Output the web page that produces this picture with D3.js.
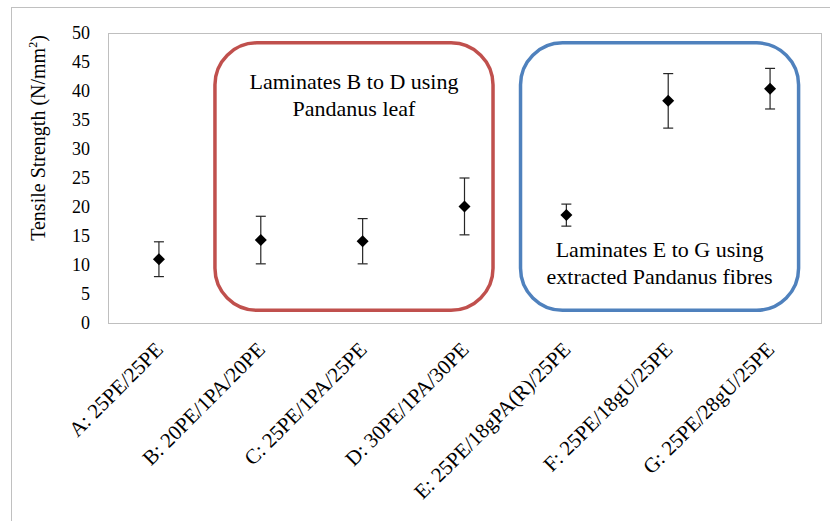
<!DOCTYPE html>
<html>
<head>
<meta charset="utf-8">
<script src="https://cdn.jsdelivr.net/npm/d3@7"></script>
<style>
  body { margin: 0; background: #fff; }
  svg text { font-family: "Liberation Serif", serif; }
</style>
</head>
<body>
<div id="chart"></div>
<script>
// laminate categories and tensile strength (N/mm2)
const categories = [
  'A: 25PE/25PE',
  'B: 20PE/1PA/20PE',
  'C: 25PE/1PA/25PE',
  'D: 30PE/1PA/30PE',
  'E: 25PE/18gPA(R)/25PE',
  'F: 25PE/18gU/25PE',
  'G: 25PE/28gU/25PE'
];
const means = [11.0, 14.3, 14.1, 20.1, 18.6, 38.3, 40.4];
const errors = [3.0, 4.1, 3.9, 4.9, 1.9, 4.7, 3.5];
const yTicks = [0, 5, 10, 15, 20, 25, 30, 35, 40, 45, 50];

// group boxes: first/last category index
const groups = [
  { from: 1, to: 3, lines: ['Laminates B to D using', 'Pandanus leaf'], color: '#c0504d', textTop: true },
  { from: 4, to: 6, lines: ['Laminates E to G using', 'extracted Pandanus fibres'], color: '#4f81bd', textTop: false }
];

const serif = '"Liberation Serif", serif';
const width = 830, height = 521;
const margin = { top: 33, right: 9, bottom: 198, left: 108 };
const innerW = width - margin.left - margin.right;
const innerH = height - margin.top - margin.bottom;

const svg = d3.select('#chart').append('svg')
    .attr('width', width)
    .attr('height', height)
    .style('display', 'block');

// outer chart frame
svg.append('rect')
    .attr('x', 11.5).attr('y', 7.5)
    .attr('width', width).attr('height', height)
    .attr('fill', 'none')
    .attr('stroke', '#c0c0c0');

const g = svg.append('g')
    .attr('transform', `translate(${margin.left},${margin.top})`);

const x = d3.scalePoint()
    .domain(categories)
    .range([0, innerW])
    .padding(0.5);
const step = x.step();

const y = d3.scaleLinear()
    .domain([0, 50])
    .range([innerH, 0]);

// plot area border
g.append('rect')
    .attr('x', 0.5).attr('y', 0.5)
    .attr('width', innerW).attr('height', innerH)
    .attr('fill', 'none')
    .attr('stroke', '#bfbfbf');

// y axis labels
const yAxis = g.append('g')
    .call(d3.axisLeft(y).tickValues(yTicks).tickSize(0).tickPadding(18));
yAxis.select('.domain').remove();
yAxis.selectAll('text')
    .style('font-family', serif)
    .style('font-size', '18px')
    .attr('fill', '#000');

// x axis labels
const xAxis = g.append('g')
    .attr('transform', `translate(0,${innerH})`)
    .call(d3.axisBottom(x).tickSize(0).tickPadding(0));
xAxis.select('.domain').remove();
xAxis.selectAll('text')
    .style('font-family', serif)
    .style('font-size', '21px')
    .attr('fill', '#000')
    .attr('text-anchor', 'end')
    .attr('dy', null)
    .attr('y', 0)
    .attr('transform', 'translate(5,28) rotate(-45)');

// y title
const title = svg.append('text')
    .attr('transform', `translate(45,${margin.top + innerH / 2 - 40}) rotate(-90)`)
    .attr('text-anchor', 'middle')
    .style('font-family', serif)
    .style('font-size', '20px');
title.append('tspan').text('Tensile Strength (N/mm');
title.append('tspan').style('font-size', '12px').attr('dy', -8).text('2');
title.append('tspan').attr('dy', 8).text(')');

// group boxes
groups.forEach(grp => {
  const x0 = x(categories[grp.from]) - 0.45 * step;
  const x1 = x(categories[grp.to]) + 0.28 * step;
  const y0 = y(48.3), y1 = y(2.2);
  g.append('rect')
      .attr('x', x0).attr('y', y0)
      .attr('width', x1 - x0).attr('height', y1 - y0)
      .attr('rx', 42).attr('ry', 42)
      .attr('fill', 'none')
      .attr('stroke', grp.color)
      .attr('stroke-width', 3.5);
  const cx = (x0 + x1) / 2;
  const ty = grp.textTop ? y0 + 46 : y1 - 53;
  g.append('text')
      .attr('text-anchor', 'middle')
      .style('font-family', serif)
      .style('font-size', '22px')
      .selectAll('tspan')
      .data(grp.lines)
    .join('tspan')
      .attr('x', cx)
      .attr('y', (d, i) => ty + i * 27)
      .text(d => d);
});

// error bars
const pts = categories.map((c, i) => ({ c, m: means[i], e: errors[i] }));
const eb = g.append('g').attr('stroke', '#262626').attr('stroke-width', 1.2);
eb.selectAll('.bar')
    .data(pts)
  .join('line')
    .attr('x1', d => x(d.c)).attr('x2', d => x(d.c))
    .attr('y1', d => y(d.m + d.e)).attr('y2', d => y(d.m - d.e));
['top', 'bot'].forEach(k => {
  eb.selectAll('.cap-' + k)
      .data(pts)
    .join('line')
      .attr('x1', d => x(d.c) - 5).attr('x2', d => x(d.c) + 5)
      .attr('y1', d => y(k === 'top' ? d.m + d.e : d.m - d.e))
      .attr('y2', d => y(k === 'top' ? d.m + d.e : d.m - d.e));
});

// diamond markers
g.selectAll('.pt')
    .data(pts)
  .join('path')
    .attr('transform', d => `translate(${x(d.c)},${y(d.m)})`)
    .attr('d', 'M0,-6L6,0L0,6L-6,0Z')
    .attr('fill', '#000');
</script>
</body>
</html>
